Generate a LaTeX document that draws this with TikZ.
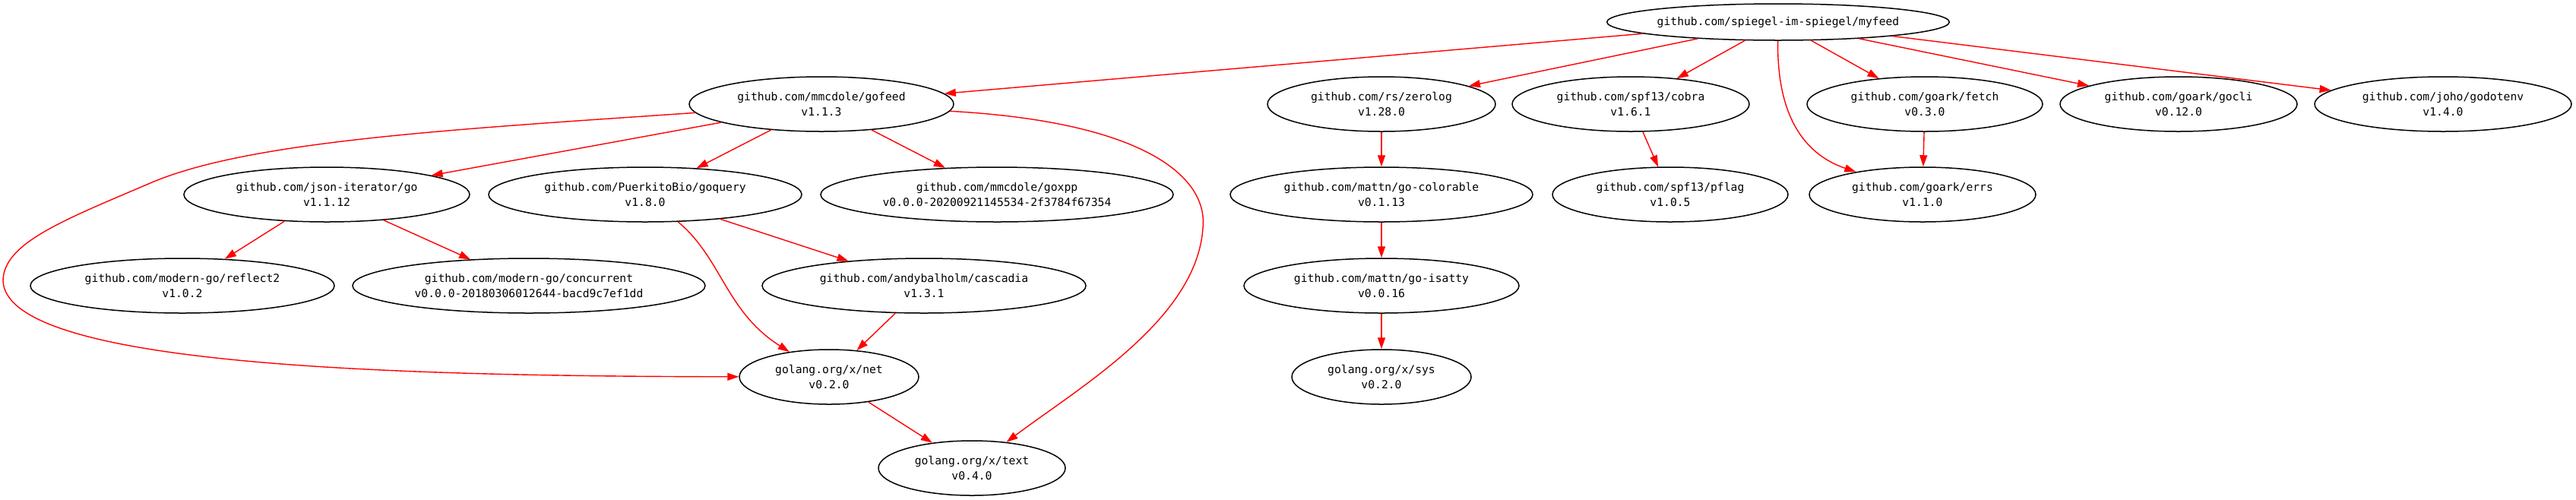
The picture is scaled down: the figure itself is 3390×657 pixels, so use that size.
\documentclass[tikz,border=0pt]{standalone}
\usepackage{fontspec}
\newfontfamily\depfont{DejaVu Sans Mono}
\usetikzlibrary{shapes.geometric,arrows.meta}
\begin{document}
\begin{tikzpicture}[x=1pt,y=-1pt,
  pkg/.style={ellipse, draw=black, line width=1.5pt, inner sep=0pt, align=center,
    minimum height=72pt, font=\depfont\fontsize{14.7}{20}\selectfont},
  rxw/.style={minimum width=#1pt},
  dep/.style={draw=red, line width=1.4pt, -{Triangle[length=15pt,width=10pt]}}]
\fill[white] (0,0) rectangle (3390,657);
\useasboundingbox (0,0) rectangle (3390,657);
% rank 1
\node[pkg, rxw=448, minimum height=48pt] (myfeed) at (2340,29) {github.com/spiegel-im-spiegel/myfeed};
% rank 2
\node[pkg, rxw=348] (gofeed) at (1081,137) {github.com/mmcdole/gofeed\\v1.1.3};
\node[pkg, rxw=300] (zerolog) at (1818,137) {github.com/rs/zerolog\\v1.28.0};
\node[pkg, rxw=312] (cobra) at (2146,137) {github.com/spf13/cobra\\v1.6.1};
\node[pkg, rxw=310] (fetch) at (2533,137) {github.com/goark/fetch\\v0.3.0};
\node[pkg, rxw=312] (gocli) at (2867,137) {github.com/goark/gocli\\v0.12.0};
\node[pkg, rxw=338] (godotenv) at (3215,137) {github.com/joho/godotenv\\v1.4.0};
% rank 3
\node[pkg, rxw=376] (jsoniter) at (430,256) {github.com/json-iterator/go\\v1.1.12};
\node[pkg, rxw=412] (goquery) at (849,256) {github.com/PuerkitoBio/goquery\\v1.8.0};
\node[pkg, rxw=464] (goxpp) at (1312,256) {github.com/mmcdole/goxpp\\v0.0.0-20200921145534-2f3784f67354};
\node[pkg, rxw=398] (colorable) at (1818,256) {github.com/mattn/go-colorable\\v0.1.13};
\node[pkg, rxw=310] (pflag) at (2198,256) {github.com/spf13/pflag\\v1.0.5};
\node[pkg, rxw=298] (errs) at (2530,256) {github.com/goark/errs\\v1.1.0};
% rank 4
\node[pkg, rxw=400] (reflect2) at (240,376) {github.com/modern-go/reflect2\\v1.0.2};
\node[pkg, rxw=464] (concurrent) at (696,376) {github.com/modern-go/concurrent\\v0.0.0-20180306012644-bacd9c7ef1dd};
\node[pkg, rxw=426] (cascadia) at (1216,376) {github.com/andybalholm/cascadia\\v1.3.1};
\node[pkg, rxw=362] (isatty) at (1818,376) {github.com/mattn/go-isatty\\v0.0.16};
% rank 5
\node[pkg, rxw=236] (net) at (1091,496) {golang.org/x/net\\v0.2.0};
\node[pkg, rxw=236] (sys) at (1818,496) {golang.org/x/sys\\v0.2.0};
% rank 6
\node[pkg, rxw=246] (text) at (1279,616) {golang.org/x/text\\v0.4.0};
% edges from myfeed
\draw[dep] (myfeed) -- (gofeed);
\draw[dep] (myfeed) -- (zerolog);
\draw[dep] (myfeed) -- (cobra);
\draw[dep] (myfeed) .. controls (2338,160) and (2380,205) .. (errs);
\draw[dep] (myfeed) -- (fetch);
\draw[dep] (myfeed) -- (gocli);
\draw[dep] (myfeed) -- (godotenv);
% edges from gofeed
\draw[dep] (gofeed) -- (jsoniter);
\draw[dep] (gofeed) -- (goquery);
\draw[dep] (gofeed) -- (goxpp);
\draw[dep] (gofeed) .. controls (600,170) and (330,185) .. (200,240)
  .. controls (83,290) and (4,320) .. (4,370)
  .. controls (10,480) and (500,495) .. (net);
\draw[dep] (gofeed) .. controls (1500,160) and (1590,230) .. (1583,300)
  .. controls (1575,420) and (1420,510) .. (text);
% others
\draw[dep] (jsoniter) -- (reflect2);
\draw[dep] (jsoniter) -- (concurrent);
\draw[dep] (goquery) -- (cascadia);
\draw[dep] (goquery) .. controls (950,340) and (955,410) .. (net);
\draw[dep] (cascadia) -- (net);
\draw[dep] (net) -- (text);
\draw[dep] (zerolog) -- (colorable);
\draw[dep] (colorable) -- (isatty);
\draw[dep] (isatty) -- (sys);
\draw[dep] (cobra) -- (pflag);
\draw[dep] (fetch) -- (errs);
\end{tikzpicture}
\end{document}
